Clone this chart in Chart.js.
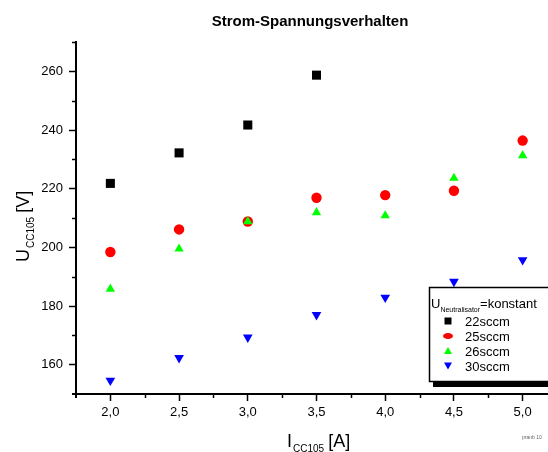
<!DOCTYPE html>
<html><head><meta charset="utf-8">
<script src="https://cdn.jsdelivr.net/npm/chart.js@4/dist/chart.umd.min.js"></script>
<style>
html,body{margin:0;padding:0;overflow:hidden;background:#fff;width:548px;height:452px}
#wrap{position:absolute;left:0;top:0;width:620px;height:452px}
canvas{display:block}
</style>
</head><body><div id="wrap"><canvas id="c" width="620" height="452"></canvas></div>
<script>
// ---- data ----
const xCurrent = [2.0, 2.5, 3.0, 3.5, 4.0, 4.5, 5.0];
const u22 = [221.8, 232.2, 241.7, 258.7];
const u25 = [198.4, 206.1, 208.8, 216.9, 217.8, 219.3, 236.4];
const u26 = [185.8, 199.5, 208.8, 211.9, 210.8, 223.6, 231.3];
const u30 = [154.6, 162.3, 169.3, 177.0, 182.9, 188.3, 195.7];
const seriesLabels = ['22sccm', '25sccm', '26sccm', '30sccm'];
const xTicks = [2.0, 2.5, 3.0, 3.5, 4.0, 4.5, 5.0];
const xMinorTicks = [2.25, 2.75, 3.25, 3.75, 4.25, 4.75, 5.25];
const yTicks = [160, 180, 200, 220, 240, 260];
const yMinorTicks = [170, 190, 210, 230, 250, 270];
const titleText = 'Strom-Spannungsverhalten';
const legendHeader = ['U', 'Neutralisator', '=konstant'];

const toPts = ys => ys.map((y, i) => ({x: xCurrent[i], y: y}));
const FONT = 'Liberation Sans, Arial, sans-serif';

const decor = {
  id: 'decor',
  afterDraw(chart) {
    const ctx = chart.ctx;
    const xs = chart.scales.x, ys = chart.scales.y;
    const ca = chart.chartArea;
    ctx.save();
    ctx.strokeStyle = '#000';
    ctx.lineWidth = 1.5;
    // minor ticks
    xMinorTicks.forEach(v => {
      const px = Math.round(xs.getPixelForValue(v)) + 0.5;
      ctx.beginPath(); ctx.moveTo(px, ca.bottom); ctx.lineTo(px, ca.bottom + 4); ctx.stroke();
    });
    yMinorTicks.forEach(v => {
      const py = Math.round(ys.getPixelForValue(v)) + 0.5;
      ctx.beginPath(); ctx.moveTo(ca.left, py); ctx.lineTo(ca.left - 4, py); ctx.stroke();
    });
    // small axis overhangs
    ctx.lineWidth = 2;
    ctx.beginPath(); ctx.moveTo(ca.left, ca.bottom); ctx.lineTo(ca.left, ca.bottom + 4); ctx.stroke();
    ctx.beginPath(); ctx.moveTo(ca.left, ca.bottom); ctx.lineTo(ca.left - 4, ca.bottom); ctx.stroke();

    ctx.fillStyle = '#000';
    // title
    ctx.textAlign = 'center';
    ctx.textBaseline = 'middle';
    ctx.font = 'bold 15px ' + FONT;
    ctx.fillText(titleText, 310, 22);

    ctx.textBaseline = 'alphabetic';
    ctx.textAlign = 'left';
    // x axis title
    let x = 287;
    ctx.font = '18px ' + FONT;
    ctx.fillText('I', x, 447); x += ctx.measureText('I').width + 1;
    ctx.font = '10px ' + FONT;
    ctx.fillText('CC105', x, 452); x += ctx.measureText('CC105').width + 4;
    ctx.font = '18px ' + FONT;
    ctx.fillText('[A]', x, 447);
    // y axis title (rotated)
    ctx.save();
    ctx.translate(29, 262);
    ctx.rotate(-Math.PI / 2);
    let t = 0;
    ctx.font = '18px ' + FONT;
    ctx.fillText('U', t, 0); t += ctx.measureText('U').width + 1;
    ctx.font = '10px ' + FONT;
    ctx.fillText('CC105', t, 5); t += ctx.measureText('CC105').width + 4;
    ctx.font = '18px ' + FONT;
    ctx.fillText('[V]', t, 0);
    ctx.restore();

    // legend box with shadow
    const lx = 429, ly = 287, lw = 220, lh = 94;
    ctx.fillStyle = '#000';
    ctx.fillRect(lx + 4, ly + lh, lw, 6);
    ctx.fillStyle = '#fff';
    ctx.fillRect(lx, ly, lw, lh);
    ctx.strokeStyle = '#000';
    ctx.lineWidth = 1.5;
    ctx.strokeRect(lx + 0.5, ly + 0.5, lw, lh);
    ctx.fillStyle = '#000';
    let hx = 431;
    ctx.font = '13px ' + FONT;
    ctx.fillText(legendHeader[0], hx, 308); hx += ctx.measureText(legendHeader[0]).width;
    ctx.font = '7px ' + FONT;
    ctx.fillText(legendHeader[1], hx, 312); hx += ctx.measureText(legendHeader[1]).width;
    ctx.font = '13px ' + FONT;
    ctx.fillText(legendHeader[2], hx, 308);

    chart.data.datasets.forEach((ds, i) => {
      const mx = 448, my = 321 + i * 15;
      ctx.fillStyle = ds.backgroundColor;
      ctx.beginPath();
      if (ds.pointStyle === 'rect') {
        ctx.rect(mx - 3.5, my - 3.5, 7, 7);
      } else if (ds.pointStyle === 'circle') {
        ctx.ellipse(mx, my, 5, 3, 0, 0, Math.PI * 2);
      } else if (ds.pointRotation === 180) {
        ctx.moveTo(mx - 4, my - 3.5); ctx.lineTo(mx + 4, my - 3.5); ctx.lineTo(mx, my + 3.5); ctx.closePath();
      } else {
        ctx.moveTo(mx - 4, my + 3); ctx.lineTo(mx + 4, my + 3); ctx.lineTo(mx, my - 4); ctx.closePath();
      }
      ctx.fill();
      ctx.fillStyle = '#000';
      ctx.font = '13px ' + FONT;
      ctx.fillText(ds.label, 465, 326 + i * 15);
    });

    // tiny footer text
    ctx.fillStyle = '#666';
    ctx.font = '5px ' + FONT;
    ctx.fillText('pranb 10', 522, 439);
    ctx.restore();
  }
};

new Chart(document.getElementById('c'), {
  type: 'scatter',
  data: {
    datasets: [
      {label: seriesLabels[0], data: toPts(u22), pointStyle: 'rect', pointRadius: 6.4, backgroundColor: '#000000', borderColor: '#000000', borderWidth: 0, order: 4},
      {label: seriesLabels[1], data: toPts(u25), pointStyle: 'circle', pointRadius: 5.2, backgroundColor: '#ff0000', borderColor: '#ff0000', borderWidth: 0, order: 3},
      {label: seriesLabels[2], data: toPts(u26), pointStyle: 'triangle', pointRadius: 5.4, backgroundColor: '#00ff00', borderColor: '#00ff00', borderWidth: 0, order: 2},
      {label: seriesLabels[3], data: toPts(u30), pointStyle: 'triangle', pointRotation: 180, pointRadius: 5.6, backgroundColor: '#0000ff', borderColor: '#0000ff', borderWidth: 0, order: 1}
    ]
  },
  options: {
    responsive: false,
    animation: false,
    devicePixelRatio: 1,
    layout: {padding: {left: 0, right: 63, top: 42, bottom: 0}},
    plugins: {
      legend: {display: false},
      tooltip: {enabled: false},
      title: {display: false}
    },
    scales: {
      x: {
        type: 'linear', min: 1.75, max: 5.25,
        afterBuildTicks: s => { s.ticks = xTicks.map(v => ({value: v})); },
        afterFit: s => { s.height = 58; },
        grid: {display: true, drawOnChartArea: false, drawTicks: true, tickLength: 7, tickWidth: 1.5, tickColor: '#000'},
        border: {display: true, color: '#000', width: 2},
        ticks: {color: '#000', font: {family: FONT, size: 13}, padding: 4, maxRotation: 0, autoSkip: false,
          callback: v => Number(v).toFixed(1).replace('.', ',')}
      },
      y: {
        type: 'linear', min: 150, max: 270,
        afterBuildTicks: s => { s.ticks = yTicks.map(v => ({value: v})); },
        afterFit: s => { s.width = 76; },
        grid: {display: true, drawOnChartArea: false, drawTicks: true, tickLength: 7, tickWidth: 1.5, tickColor: '#000'},
        border: {display: true, color: '#000', width: 2},
        ticks: {color: '#000', font: {family: FONT, size: 13}, padding: 6, autoSkip: false,
          callback: v => String(v)}
      }
    }
  },
  plugins: [decor]
});
</script>
</body></html>
